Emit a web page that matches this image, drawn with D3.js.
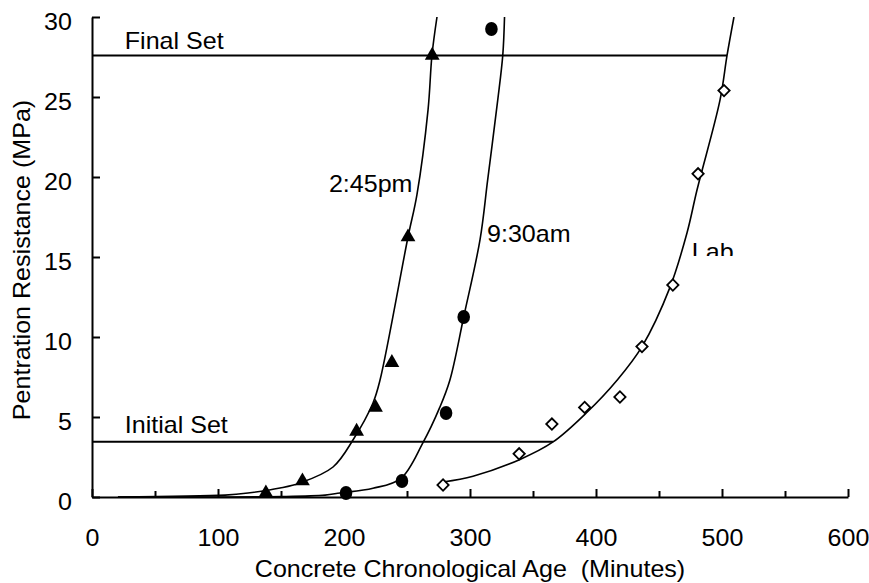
<!DOCTYPE html>
<html>
<head>
<meta charset="utf-8">
<script src="https://cdn.jsdelivr.net/npm/d3@7"></script>
<style>
  body { margin: 0; background: #fff; }
  svg text { font-family: Arial, "Liberation Sans", sans-serif; fill: #000; }
</style>
</head>
<body>
<div id="chart"></div>
<script>
// measured points [minutes, MPa]
const pm245Points = [[138,0.25],[167,1.0],[210,4.1],[225,5.6],[238,8.4],[250.8,16.25],[270,27.6]]
const am930Points = [[201.6,0.25],[246,1.0],[281,5.25],[295,11.25],[317,29.25]]
const labPoints = [[278.6,0.75],[339,2.7],[365,4.56],[391,5.6],[419,6.25],[436.5,9.4],[461,13.25],[481,20.2],[501.6,25.4]]

// fitted curves
const pm245Curve = [[20.6,0],[105.6,0.12],[123.8,0.25],[149.2,0.56],[165.1,0.875],[191.3,1.875],[207.1,3.56],[223,5.875],[228.6,7.31],[250.8,16.25],[257.9,18.9],[266.7,24.2],[269.8,27.6],[273.8,30]]
const am930Curve = [[20.6,0],[150,0.03],[185,0.12],[196.8,0.25],[223,0.55],[245,1.15],[262.7,3.4],[276,5.6],[284,7.3],[295,11.25],[308,16.1],[314,19.8],[322,24.8],[326,27.6],[327.4,30]]
const labCurve = [[278.6,0.94],[302.4,1.3],[339.7,2.35],[365.9,3.44],[392.9,5.3],[416.7,7.3],[436.5,9.4],[458.7,13.1],[472.2,16.5],[480.2,19.2],[498.4,24.8],[504,27.6],[509.5,30]]

// set limits [MPa, minutes where the line stops]
const initialSet = [3.45, 366]
const finalSet = [27.6, 504]

const xTicks = [0,100,200,300,400,500,600]
const xMinor = [50,150,250,350,450,550]
const yTicks = [0,5,10,15,20,25,30]

let width = 869
let height = 583
let fs = '23px'
let sx = 1.09 // the original text is a bit stretched sideways

let svg = d3.select('#chart').append('svg')
.attr('width', width)
.attr('height', height)

let x = d3.scaleLinear().domain([0, 600]).range([92, 848])
let y = d3.scaleLinear().domain([0, 30]).range([497, 17])

svg.append('clipPath').attr('id', 'plot')
.append('rect').attr('x', 92).attr('y', 17).attr('width', 756).attr('height', 480)

// set lines
svg.append('line')
.attr('x1', x(0)).attr('x2', x(initialSet[1]))
.attr('y1', y(initialSet[0])).attr('y2', y(initialSet[0]))
.attr('stroke', '#000').attr('stroke-width', 2)

svg.append('line')
.attr('x1', x(0)).attr('x2', x(finalSet[1]))
.attr('y1', y(finalSet[0])).attr('y2', y(finalSet[0]))
.attr('stroke', '#000').attr('stroke-width', 2)

// curves
let line = d3.line()
.x(d => x(d[0]))
.y(d => y(d[1]))
.curve(d3.curveCatmullRom.alpha(0.5))

let curveGroup = svg.append('g').attr('clip-path', 'url(#plot)')

;[pm245Curve, am930Curve, labCurve].forEach(c => {
	curveGroup.append('path')
	.attr('d', line(c))
	.attr('fill', 'none')
	.attr('stroke', '#000')
	.attr('stroke-width', 1.6)
})

// axes
let xAxis = svg.append('g')
.attr('transform', 'translate(0,' + y(0) + ')')
.call(d3.axisBottom(x).tickValues(xTicks).tickSize(-8).tickSizeOuter(0).tickPadding(33))

svg.append('g')
.attr('transform', 'translate(0,' + y(0) + ')')
.call(d3.axisBottom(x).tickValues(xMinor).tickSize(-6).tickSizeOuter(0).tickFormat(''))
.call(g => g.select('.domain').remove())

let yAxis = svg.append('g')
.attr('transform', 'translate(' + x(0) + ',0)')
.call(d3.axisLeft(y).tickValues(yTicks).tickSize(-8).tickSizeOuter(0).tickPadding(18.5))

svg.selectAll('.tick line, .domain').attr('stroke', '#000').attr('stroke-width', 2)
svg.selectAll('.tick text').style('font-size', fs).attr('fill', '#000')
	.attr('transform', 'scale(' + sx + ',1)')
xAxis.selectAll('.tick text').attr('dy', '0.71em')
yAxis.selectAll('.tick text').attr('dy', '0.55em')

// markers
svg.selectAll('.tri')
.data(pm245Points)
.enter()
.append('path')
.attr('d', d3.symbol(d3.symbolTriangle, 95))
.attr('transform', d => 'translate(' + x(d[0]) + ',' + y(d[1]) + ')')
.attr('fill', '#000')

svg.selectAll('.dot')
.data(am930Points)
.enter()
.append('ellipse')
.attr('cx', d => x(d[0]))
.attr('cy', d => y(d[1]))
.attr('rx', 6.3)
.attr('ry', 7)
.attr('fill', '#000')

svg.selectAll('.dia')
.data(labPoints)
.enter()
.append('path')
.attr('d', d3.symbol(d3.symbolSquare, 64))
.attr('transform', d => 'translate(' + x(d[0]) + ',' + y(d[1]) + ') rotate(45)')
.attr('fill', '#fff')
.attr('stroke', '#000')
.attr('stroke-width', 1.8)

// labels
let label = (t, mx, my) => svg.append('text')
.attr('transform', 'translate(' + x(mx) + ',' + y(my) + ') scale(' + sx + ',1)')
.style('font-size', fs)
.text(t)

label('Final Set', 26, 28.0)
label('Initial Set', 26, 4.0)
label('2:45pm', 188, 19.06)
label('9:30am', 313.5, 15.94)

svg.append('clipPath').attr('id', 'labclip')
.append('rect').attr('x', 680).attr('y', 225).attr('width', 80).attr('height', 31)
svg.append('g').attr('clip-path', 'url(#labclip)')
.append('text')
.attr('transform', 'translate(' + x(476) + ',' + y(14.8) + ') scale(' + sx + ',1)')
.style('font-size', fs)
.text('Lab')

svg.append('text')
.attr('transform', 'translate(470,577) scale(' + sx + ',1)')
.attr('text-anchor', 'middle')
.style('font-size', fs)
.text('Concrete Chronological Age\u00a0\u00a0(Minutes)')

svg.append('text')
.attr('transform', 'translate(30,260) rotate(-90) scale(' + sx + ',1)')
.attr('text-anchor', 'middle')
.style('font-size', fs)
.text('Pentration Resistance (MPa)')
</script>
</body>
</html>
